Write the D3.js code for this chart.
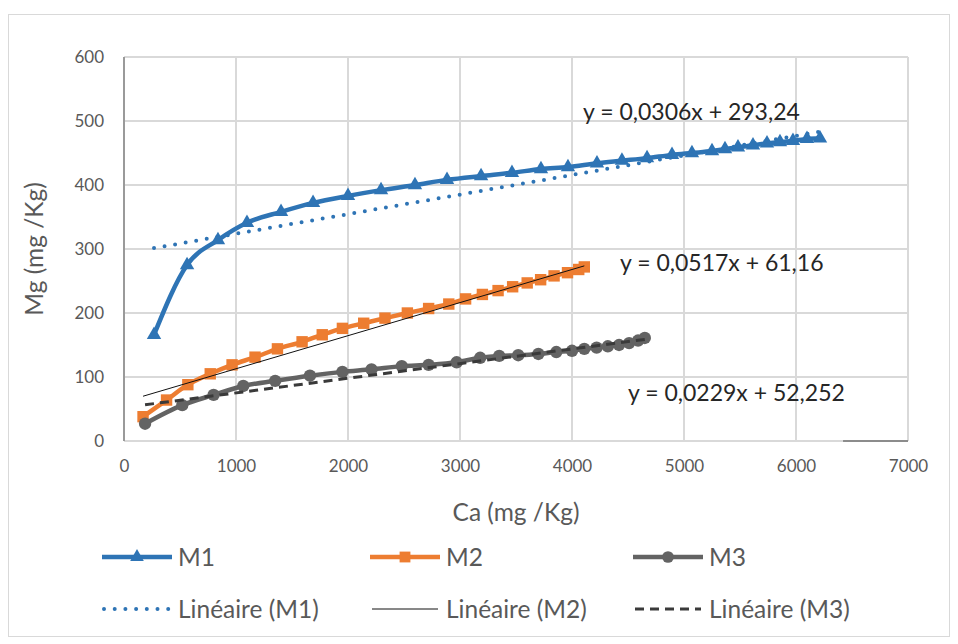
<!DOCTYPE html>
<html>
<head>
<meta charset="utf-8">
<script src="https://cdn.jsdelivr.net/npm/d3@7"></script>
<style>
  html, body { margin: 0; padding: 0; background: #fff; }
  svg { display: block; }
  text { font-family: Lato, "Open Sans", "Liberation Sans", sans-serif; }
</style>
</head>
<body>
<svg id="chart" width="958" height="644"></svg>
<script>
// Ca (mg/Kg) vs Mg (mg/Kg) for three samples
const m1Ca = [268, 563, 839, 1098, 1402, 1688, 2000, 2295, 2598, 2884, 3188, 3464, 3723, 3964, 4223, 4446, 4670, 4893, 5071, 5250, 5366, 5482, 5616, 5741, 5857, 5973, 6098, 6214];
const m1Mg = [166, 275, 314, 341, 358, 372, 383, 392, 400, 408, 414, 419, 425, 428, 434, 438, 442, 447, 450, 453, 456, 459, 462, 465, 467, 469, 472, 473];

const m2Ca = [170, 380, 570, 770, 965, 1170, 1370, 1590, 1770, 1950, 2140, 2330, 2530, 2720, 2900, 3050, 3200, 3340, 3470, 3600, 3720, 3840, 3960, 4060, 4110];
const m2Mg = [38, 64, 88, 105, 119, 131, 144, 155, 166, 176, 184, 192, 200, 207, 214, 222, 229, 235, 241, 247, 252, 258, 263, 268, 272];

const m3Ca = [188, 520, 800, 1065, 1350, 1660, 1950, 2210, 2480, 2720, 2970, 3180, 3350, 3520, 3700, 3860, 4000, 4110, 4220, 4320, 4420, 4510, 4590, 4650];
const m3Mg = [27, 56, 72, 86, 94, 102, 108, 112, 117, 119, 123, 130, 133, 134, 136, 139, 141, 144, 146, 148, 150, 153, 157, 161];

// Linear trendlines: [slope, intercept]
const trendM1 = [0.0306, 293.24];
const trendM2 = [0.0517, 61.16];
const trendM3 = [0.0229, 52.252];
const equationLabels = ["y = 0,0306x + 293,24", "y = 0,0517x + 61,16", "y = 0,0229x + 52,252"];

const xTicks = [0, 1000, 2000, 3000, 4000, 5000, 6000, 7000];
const yTicks = [0, 100, 200, 300, 400, 500, 600];
const seriesNames = ["M1", "M2", "M3"];
const trendNames = ["Linéaire (M1)", "Linéaire (M2)", "Linéaire (M3)"];
const xTitle = "Ca (mg /Kg)";
const yTitle = "Mg (mg /Kg)";

const svg = d3.select("#chart");
const W = 958, H = 644;
const plot = { left: 124, right: 908, top: 57, bottom: 441 };

const x = d3.scaleLinear().domain([0, 7000]).range([plot.left, plot.right]);
const y = d3.scaleLinear().domain([0, 600]).range([plot.bottom, plot.top]);

const BLUE = "#2e74b5", ORANGE = "#ed7d31", GRAY = "#636363";
const GRID = "#d9d9d9", TXT = "#595959";

// chart frame
svg.append("rect").attr("x", 8.5).attr("y", 14.5).attr("width", W - 17).attr("height", H - 22)
  .attr("fill", "#fff").attr("stroke", GRID).attr("stroke-width", 1);

// gridlines
const grid = svg.append("g");
grid.selectAll("line.h").data(yTicks).join("line")
  .attr("x1", plot.left).attr("x2", plot.right)
  .attr("y1", d => y(d)).attr("y2", d => y(d))
  .attr("stroke", GRID).attr("stroke-width", 2);
grid.selectAll("line.v").data(xTicks.slice(1)).join("line")
  .attr("x1", d => x(d)).attr("x2", d => x(d))
  .attr("y1", plot.top).attr("y2", plot.bottom)
  .attr("stroke", GRID).attr("stroke-width", 2);

// value axis line
svg.append("line").attr("x1", x(0)).attr("x2", x(0)).attr("y1", plot.top).attr("y2", plot.bottom)
  .attr("stroke", "#9a9a9a").attr("stroke-width", 2);
// darker stub on the bottom axis at the right end
svg.append("line").attr("x1", x(6420)).attr("x2", x(7000)).attr("y1", y(0)).attr("y2", y(0))
  .attr("stroke", "#8c8c8c").attr("stroke-width", 2);

// axes (labels only)
const xAxis = svg.append("g").attr("transform", `translate(0,${plot.bottom})`)
  .call(d3.axisBottom(x).tickValues(xTicks).tickSize(0).tickPadding(19).tickFormat(d3.format("d")));
const yAxis = svg.append("g").attr("transform", `translate(${plot.left},0)`)
  .call(d3.axisLeft(y).tickValues(yTicks).tickSize(0).tickPadding(20).tickFormat(d3.format("d")));
[xAxis, yAxis].forEach(a => {
  a.select(".domain").remove();
  a.selectAll("text").attr("fill", TXT).style("font-size", "17px").style("font-family", "Lato, sans-serif");
});

// axis titles
svg.append("text").attr("x", (plot.left + plot.right) / 2).attr("y", 521)
  .attr("text-anchor", "middle").attr("fill", TXT).style("font-size", "24.5px").text(xTitle);
svg.append("text").attr("transform", `translate(43,${(plot.top + plot.bottom) / 2}) rotate(-90)`)
  .attr("text-anchor", "middle").attr("fill", TXT).style("font-size", "24.5px").text(yTitle);

const line = d3.line().x(d => x(d[0])).y(d => y(d[1])).curve(d3.curveMonotoneX);
const zip = (a, b) => a.map((v, i) => [v, b[i]]);

const series = [
  { ca: m1Ca, mg: m1Mg, color: BLUE, sym: d3.symbolTriangle, size: 90, trend: trendM1 },
  { ca: m2Ca, mg: m2Mg, color: ORANGE, sym: d3.symbolSquare, size: 130, trend: trendM2 },
  { ca: m3Ca, mg: m3Mg, color: GRAY, sym: d3.symbolCircle, size: 120, trend: trendM3 }
];

// data series
series.forEach(s => {
  const pts = zip(s.ca, s.mg);
  svg.append("path").datum(pts).attr("d", line)
    .attr("fill", "none").attr("stroke", s.color).attr("stroke-width", 4.5)
    .attr("stroke-linejoin", "round").attr("stroke-linecap", "round");
  svg.append("g").selectAll("path").data(pts).join("path")
    .attr("transform", d => `translate(${x(d[0])},${y(d[1])})`)
    .attr("d", d3.symbol().type(s.sym).size(s.size))
    .attr("fill", s.color);
});

// trendlines
const trendStyles = [
  { stroke: BLUE, width: 4, dash: "0 10.7", cap: "round" },
  { stroke: "#111", width: 1, dash: null, cap: "butt" },
  { stroke: "#3a3a3a", width: 3, dash: "9 6", cap: "butt" }
];
series.forEach((s, i) => {
  const x0 = d3.min(s.ca), x1 = d3.max(s.ca);
  const [a, b] = s.trend;
  const st = trendStyles[i];
  svg.append("line")
    .attr("x1", x(x0)).attr("y1", y(a * x0 + b))
    .attr("x2", x(x1)).attr("y2", y(a * x1 + b))
    .attr("stroke", st.stroke).attr("stroke-width", st.width)
    .attr("stroke-dasharray", st.dash).attr("stroke-linecap", st.cap);
});

// trendline equations
const eqPos = [[583, 120], [620, 271], [628, 401]];
equationLabels.forEach((t, i) => {
  svg.append("text").attr("x", eqPos[i][0]).attr("y", eqPos[i][1])
    .attr("fill", "#262626").style("font-size", "23px").text(t);
});

// legend
const legX = [102, 370, 633];
const row1 = 557, row2 = 609;
series.forEach((s, i) => {
  const lx = legX[i];
  svg.append("line").attr("x1", lx).attr("x2", lx + 70).attr("y1", row1).attr("y2", row1)
    .attr("stroke", s.color).attr("stroke-width", 4.5);
  svg.append("path").attr("transform", `translate(${lx + 35},${row1})`)
    .attr("d", d3.symbol().type(s.sym).size(s.size * 0.9)).attr("fill", s.color);
  svg.append("text").attr("x", lx + 76).attr("y", row1 + 9).attr("fill", TXT)
    .style("font-size", "24.5px").text(seriesNames[i]);

  const st = trendStyles[i];
  svg.append("line").attr("x1", lx + 2).attr("x2", lx + 68).attr("y1", row2).attr("y2", row2)
    .attr("stroke", st.stroke).attr("stroke-width", st.width)
    .attr("stroke-dasharray", st.dash).attr("stroke-linecap", st.cap);
  svg.append("text").attr("x", lx + 76).attr("y", row2 + 9).attr("fill", TXT)
    .style("font-size", "24.5px").text(trendNames[i]);
});
</script>
</body>
</html>
